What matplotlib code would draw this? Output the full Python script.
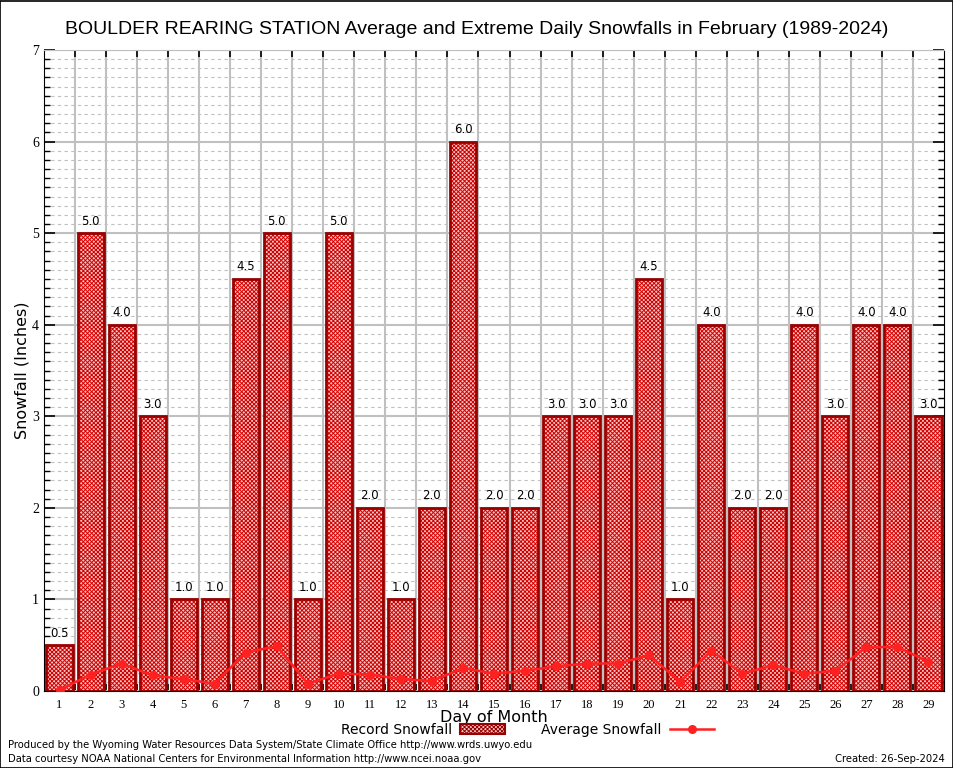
import matplotlib
matplotlib.use('Agg')
import matplotlib.pyplot as plt
from matplotlib.patches import Rectangle
from matplotlib.lines import Line2D
import numpy as np

days = list(range(1, 30))
record = [0.5, 5.0, 4.0, 3.0, 1.0, 1.0, 4.5, 5.0, 1.0, 5.0,
          2.0, 1.0, 2.0, 6.0, 2.0, 2.0, 3.0, 3.0, 3.0, 4.5,
          1.0, 4.0, 2.0, 2.0, 4.0, 3.0, 4.0, 4.0, 3.0]
average = [0.01, 0.18, 0.30, 0.17, 0.13, 0.08, 0.42, 0.49, 0.08, 0.19,
           0.18, 0.13, 0.11, 0.25, 0.19, 0.22, 0.27, 0.30, 0.30, 0.39,
           0.10, 0.44, 0.19, 0.28, 0.19, 0.22, 0.48, 0.48, 0.32]

title = 'BOULDER REARING STATION Average and Extreme Daily Snowfalls in February (1989-2024)'

plt.rcParams['hatch.linewidth'] = 0.7

fig = plt.figure(figsize=(9.54, 7.68), dpi=100)
ax = fig.add_axes([44/954, 77/768, 900/954, 641/768])

# grid
ax.set_axisbelow(True)
ax.set_xlim(0.5, 29.5)
ax.set_ylim(0, 7)
ax.set_xticks(np.arange(1.5, 29, 1))
ax.set_xticklabels([])
ax.set_xticks(days, minor=True)
ax.set_xticklabels([str(d) for d in days], minor=True, family='Liberation Serif', fontsize=9)
ax.set_yticks(range(8))
ax.set_yticklabels([str(i) for i in range(8)], family='Liberation Serif', fontsize=10)
ax.set_yticks(np.arange(0, 7.01, 0.1), minor=True)
ax.grid(True, which='major', color='#c0c0c0', linewidth=1.5)
ax.grid(True, which='minor', axis='y', color='#c0c0c0', linestyle=(0, (3, 3)), linewidth=0.8)
ax.tick_params(axis='x', which='major', direction='in', length=5, width=1.2, top=True, bottom=True)
ax.tick_params(axis='x', which='minor', length=0, pad=6)
ax.tick_params(axis='y', which='major', direction='in', length=8, width=1.2, left=True, right=True)
ax.tick_params(axis='y', which='minor', direction='in', length=4, width=1, left=True, right=True)
ax.spines['top'].set_color('#c0c0c0')

# bars: hatch layer then outline
ax.bar(days, record, width=0.84, color='#f2c8c8', edgecolor='#d40000', hatch='xxxxxxxx', linewidth=0, zorder=2)
ax.bar(days, record, width=0.84, fill=False, edgecolor='#990000', linewidth=2, zorder=3)
for d, r in zip(days, record):
    ax.text(d, r + 0.06, '%.1f' % r, ha='center', va='bottom', fontsize=8.5, zorder=5)

ax.plot(days, average, color='#ff2020', linewidth=1.8, marker='o', markersize=5.5, zorder=4)

ax.set_ylabel('Snowfall (Inches)', fontsize=11.5, labelpad=2)
ax.set_xlabel('Day of Month', fontsize=11.5, labelpad=-1)
fig.text(0.5, 0.962, title, ha='center', va='center', family='Liberation Sans', fontsize=14)

# legend
h1 = Rectangle((0, 0), 1, 1, facecolor='#f2c8c8', edgecolor='#990000', hatch='xxxxxxxx', linewidth=1.5)
h2 = Line2D([], [], color='#ff2020', linewidth=1.8, marker='o', markersize=5.5)
fig.legend([h1, h2], ['Record Snowfall', 'Average Snowfall'], ncol=2, markerfirst=False,
           frameon=False, loc='center', bbox_to_anchor=(0.553, 0.050), fontsize=10,
           handlelength=3.2, columnspacing=2.6, handletextpad=0.6)

fig.text(8/954, 1 - 745/768, 'Produced by the Wyoming Water Resources Data System/State Climate Office http://www.wrds.uwyo.edu',
         fontsize=8, fontstretch='condensed', va='center')
fig.text(8/954, 1 - 759/768, 'Data courtesy NOAA National Centers for Environmental Information http://www.ncei.noaa.gov',
         fontsize=8, fontstretch='condensed', va='center')
fig.text(945/954, 1 - 759/768, 'Created: 26-Sep-2024', fontsize=8, fontstretch='condensed', va='center', ha='right')

fig.patches.append(Rectangle((0.0005, 0.0005), 0.998, 0.998, transform=fig.transFigure,
                             fill=False, edgecolor='black', linewidth=1.2))

fig.savefig('out.png', dpi=100)
